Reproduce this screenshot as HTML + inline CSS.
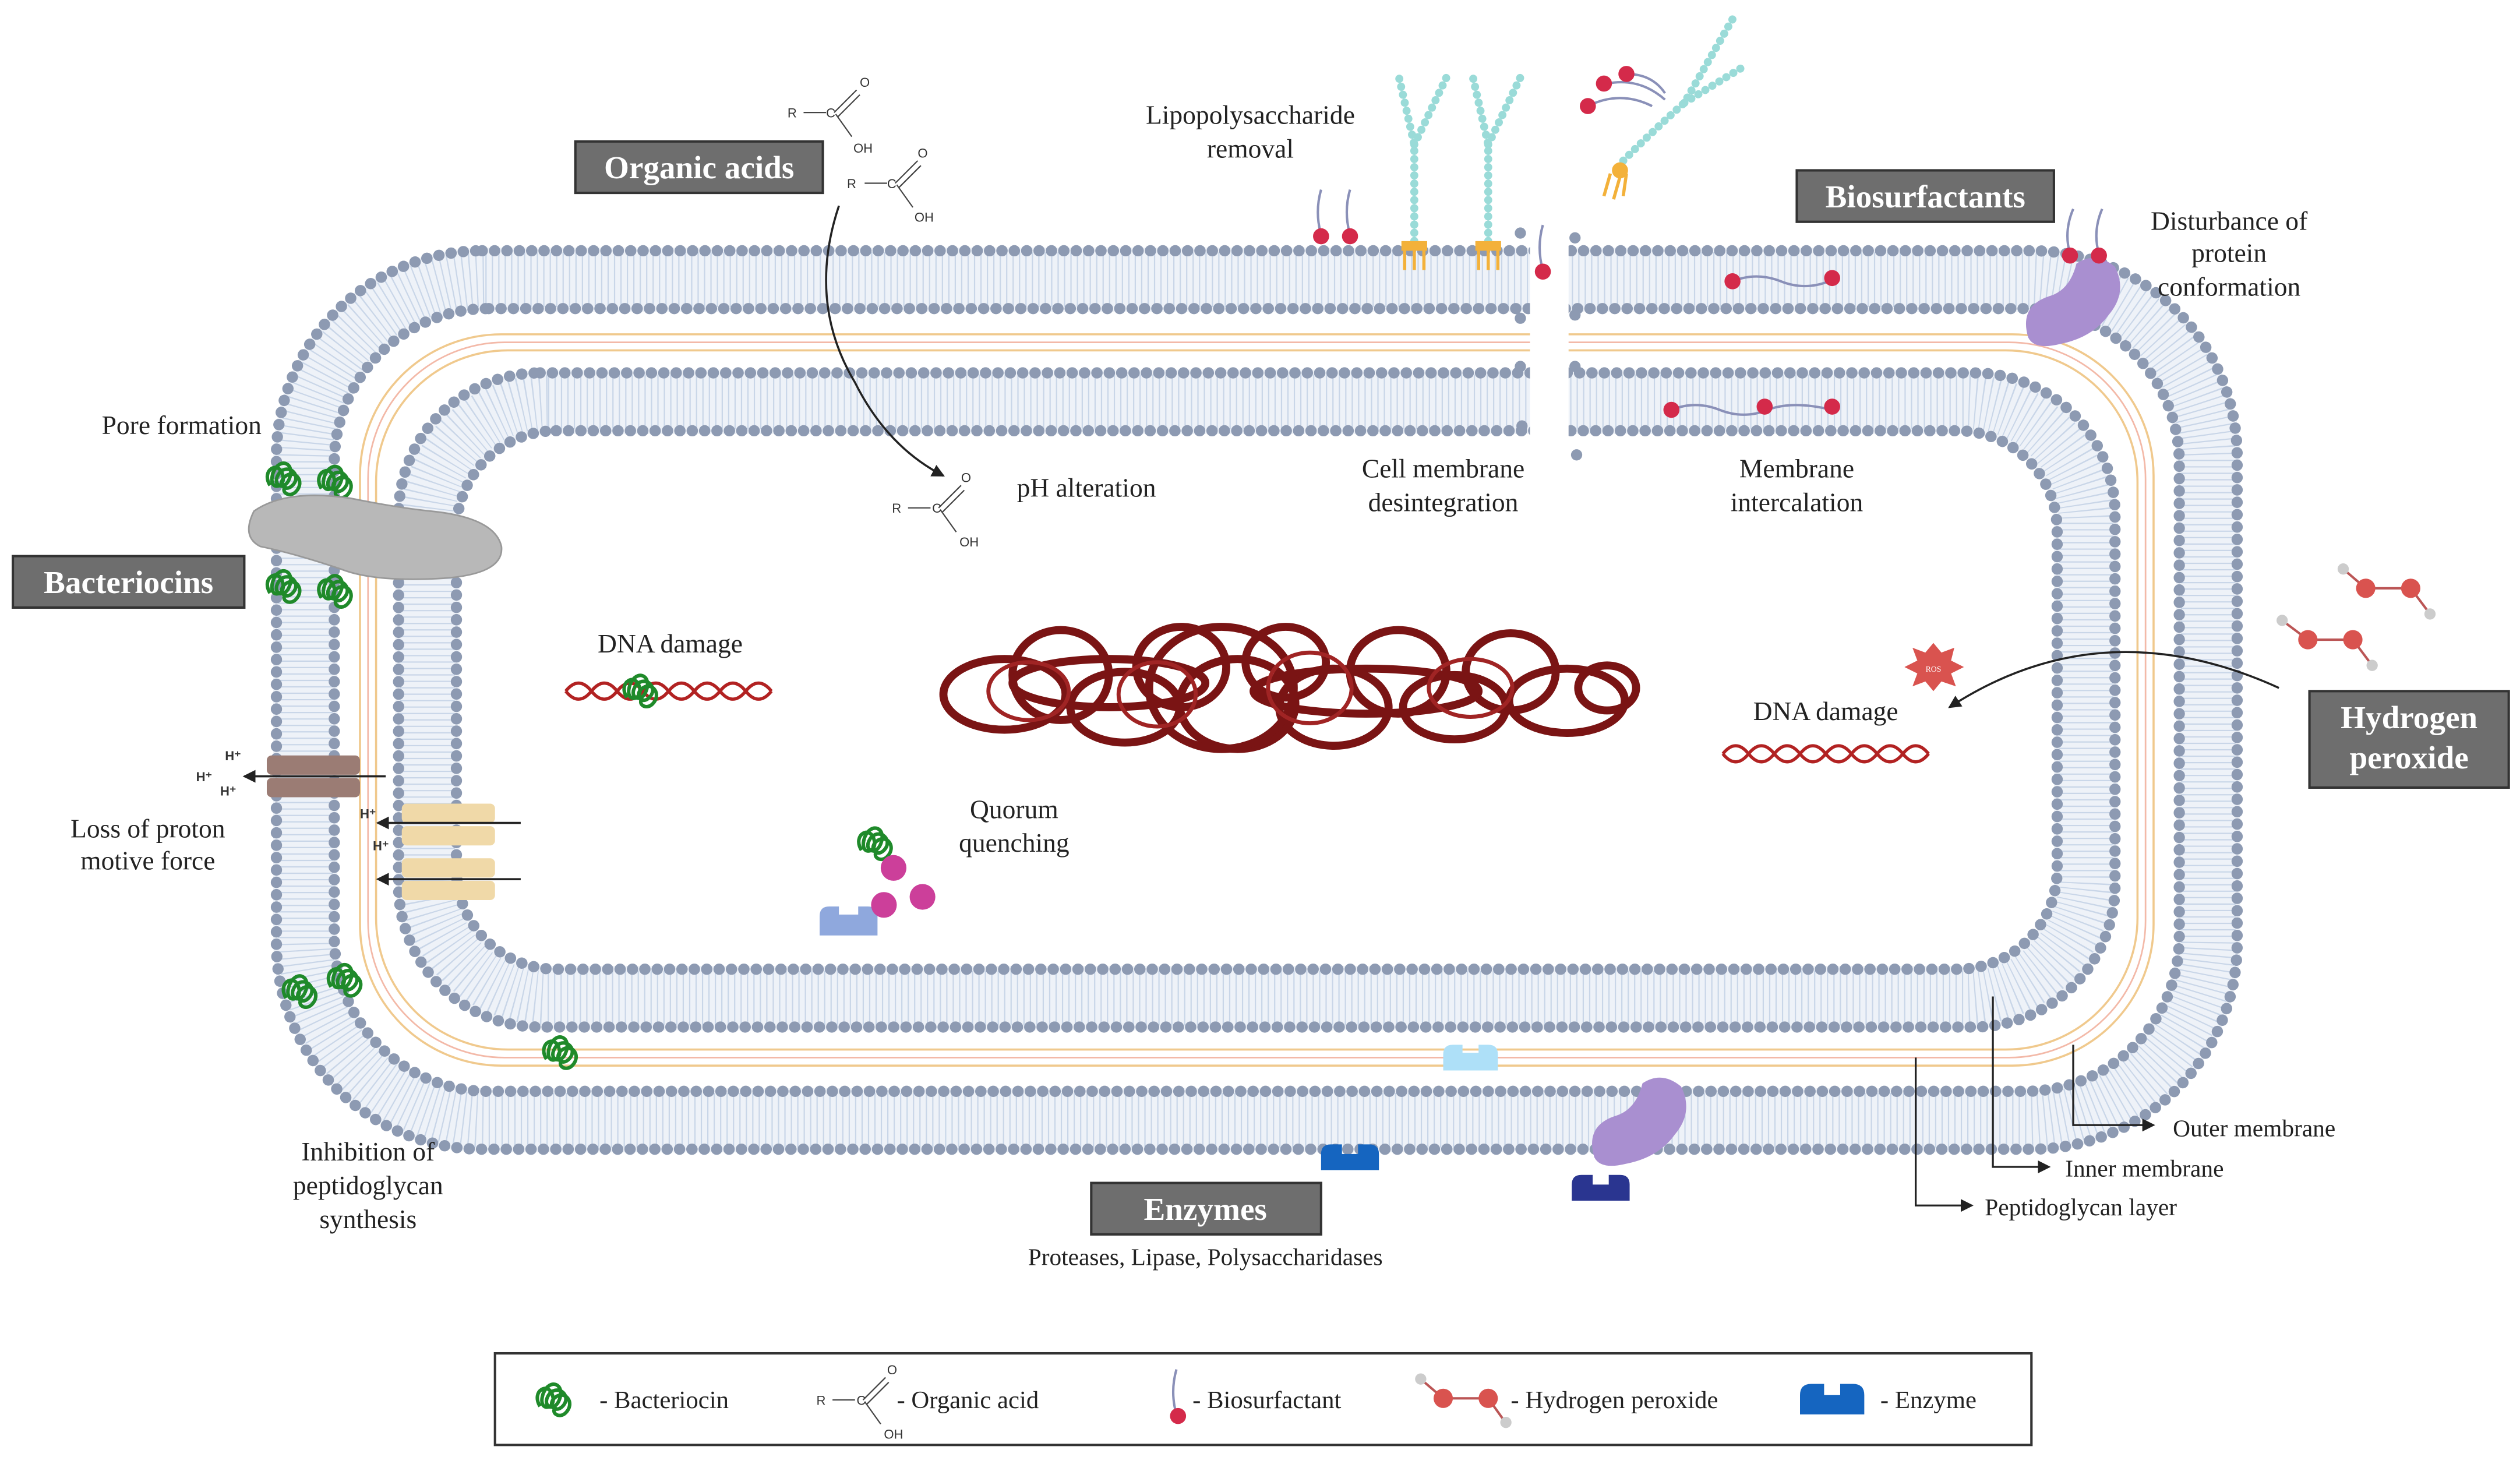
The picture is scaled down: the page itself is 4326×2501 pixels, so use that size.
<!DOCTYPE html>
<html><head><meta charset="utf-8"><style>
html,body{margin:0;padding:0;background:#fff;}
svg{display:block;}
text{font-family:"Liberation Serif",serif;fill:#222;}
.box{fill:#6e6e6e;stroke:#333;stroke-width:1.5;}
.bt{fill:#fff;font-weight:bold;font-size:20px;}
.lb{font-size:16.5px;text-anchor:middle;}
.sm{font-family:"Liberation Sans",sans-serif;font-size:8px;fill:#333;}
</style></head><body>
<svg width="4326" height="2501" viewBox="0 0 1568 906.5" preserveAspectRatio="none" xmlns="http://www.w3.org/2000/svg">
<defs>
<marker id="ar" markerWidth="8" markerHeight="8" refX="7" refY="4" orient="auto" markerUnits="userSpaceOnUse"><path d="M0,0 L8,4 L0,8 z" fill="#222"/></marker>
<g id="bac" fill="none" stroke="#1f8a2a" stroke-width="2.2">
<path d="M-12,4 c-6,-10 6,-16 8,-6 c2,8 -10,10 -6,-2 c4,-10 14,-6 10,4 c-3,8 -12,4 -6,-4 c6,-6 14,2 8,8 c-5,5 -10,-2 -4,-6 c6,-4 12,4 6,10 c-4,4 -10,0 -6,-4"/>
</g>
</defs>
<rect width="1568" height="906.5" fill="#fff"/>

<!-- outer membrane -->
<rect x="190" y="174" width="1184" height="523" rx="112" fill="none" stroke="#eef2f8" stroke-width="40"/>
<rect x="190" y="174" width="1184" height="523" rx="112" fill="none" stroke="#c9d6e8" stroke-width="34" stroke-dasharray="0.8 3.2"/>
<rect x="172" y="156" width="1220" height="559" rx="128" fill="none" stroke="#8d9ab2" stroke-width="7" stroke-dasharray="0.1 7.6" stroke-linecap="round"/>
<rect x="208" y="192" width="1148" height="487" rx="96" fill="none" stroke="#8d9ab2" stroke-width="7" stroke-dasharray="0.1 7.6" stroke-linecap="round"/>
<!-- peptidoglycan -->
<rect x="224" y="208" width="1116" height="455" rx="88" fill="none" stroke="#f0c98d" stroke-width="1.3"/>
<rect x="229" y="213" width="1106" height="445" rx="85" fill="none" stroke="#f3b9a8" stroke-width="1"/>
<rect x="234" y="218" width="1096" height="435" rx="82" fill="none" stroke="#f0c98d" stroke-width="1.3"/>
<!-- inner membrane -->
<rect x="266" y="250" width="1032" height="371" rx="75" fill="none" stroke="#eef2f8" stroke-width="40"/>
<rect x="266" y="250" width="1032" height="371" rx="75" fill="none" stroke="#c9d6e8" stroke-width="34" stroke-dasharray="0.8 3.2"/>
<rect x="248" y="232" width="1068" height="407" rx="88" fill="none" stroke="#8d9ab2" stroke-width="7" stroke-dasharray="0.1 7.6" stroke-linecap="round"/>
<rect x="284" y="268" width="996" height="335" rx="62" fill="none" stroke="#8d9ab2" stroke-width="7" stroke-dasharray="0.1 7.6" stroke-linecap="round"/>

<!-- gap for desintegration -->
<rect x="952" y="140" width="24" height="150" fill="#fff"/>
<g fill="#8d9ab2"><circle cx="946" cy="145" r="3.5"/><circle cx="946" cy="198" r="3.5"/><circle cx="946" cy="228" r="3.5"/><circle cx="947" cy="265" r="3.5"/><circle cx="980" cy="148" r="3.5"/><circle cx="980" cy="196" r="3.5"/><circle cx="980" cy="228" r="3.5"/><circle cx="981" cy="283" r="3.5"/></g>

<!-- nucleoid -->
<g fill="none" stroke="#7a1414" stroke-width="5">
<ellipse cx="625" cy="432" rx="38" ry="22"/><ellipse cx="660" cy="420" rx="30" ry="28"/><ellipse cx="700" cy="440" rx="34" ry="22"/>
<ellipse cx="735" cy="415" rx="28" ry="25"/><ellipse cx="770" cy="438" rx="36" ry="28"/><ellipse cx="800" cy="412" rx="25" ry="22"/>
<ellipse cx="830" cy="440" rx="34" ry="24"/><ellipse cx="870" cy="418" rx="30" ry="26"/><ellipse cx="905" cy="440" rx="32" ry="20"/>
<ellipse cx="940" cy="418" rx="28" ry="24"/><ellipse cx="975" cy="436" rx="36" ry="20"/><ellipse cx="1000" cy="428" rx="18" ry="14"/>
<ellipse cx="690" cy="425" rx="60" ry="15"/><ellipse cx="850" cy="430" rx="70" ry="14"/><ellipse cx="760" cy="428" rx="45" ry="38"/>
</g>
<g fill="none" stroke="#a02424" stroke-width="2.5">
<ellipse cx="640" cy="430" rx="25" ry="18"/><ellipse cx="720" cy="432" rx="24" ry="20"/><ellipse cx="815" cy="428" rx="26" ry="22"/><ellipse cx="915" cy="428" rx="26" ry="18"/>
</g>

<!-- DNA left -->
<g fill="none" stroke="#b22222" stroke-width="2">
<path d="M352,430 q8,-10 16,0 t16,0 t16,0 t16,0 t16,0 t16,0 t16,0 t16,0"/>
<path d="M352,430 q8,10 16,0 t16,0 t16,0 t16,0 t16,0 t16,0 t16,0 t16,0"/>
</g>
<use href="#bac" x="402" y="430"/>
<!-- DNA right -->
<g fill="none" stroke="#b22222" stroke-width="2">
<path d="M1072,469 q8,-10 16,0 t16,0 t16,0 t16,0 t16,0 t16,0 t16,0 t16,0"/>
<path d="M1072,469 q8,10 16,0 t16,0 t16,0 t16,0 t16,0 t16,0 t16,0 t16,0"/>
</g>
<polygon points="1203,400 1208,406 1216,403 1214,411 1222,415 1214,419 1217,427 1208,424 1203,430 1198,424 1190,427 1193,419 1185,415 1193,411 1190,403 1198,406" fill="#d9534f"/>
<text x="1203" y="418" style="font-size:5px;fill:#fff" text-anchor="middle">ROS</text>

<!-- pore formation -->
<use href="#bac" x="180" y="298"/><use href="#bac" x="212" y="300"/>
<path d="M158,318 q20,-14 60,-8 q30,6 50,8 q40,4 44,22 q2,18 -40,20 q-40,2 -60,-6 q-30,-10 -50,-14 q-12,-6 -4,-22z" fill="#b8b8b8" stroke="#999"/>
<use href="#bac" x="180" y="365"/><use href="#bac" x="212" y="368"/>
<use href="#bac" x="190" y="617"/><use href="#bac" x="218" y="610"/>
<use href="#bac" x="352" y="655"/>
<use href="#bac" x="548" y="525"/>

<!-- proton channels -->
<rect x="166" y="470" width="58" height="12" rx="3" fill="#9b7c74"/><rect x="166" y="484" width="58" height="12" rx="3" fill="#9b7c74"/>
<rect x="250" y="500" width="58" height="12" rx="3" fill="#f0d9a8"/><rect x="250" y="514" width="58" height="12" rx="3" fill="#f0d9a8"/>
<rect x="250" y="534" width="58" height="12" rx="3" fill="#f0d9a8"/><rect x="250" y="548" width="58" height="12" rx="3" fill="#f0d9a8"/>
<line x1="240" y1="483" x2="152" y2="483" stroke="#222" stroke-width="1.3" marker-end="url(#ar)"/>
<line x1="324" y1="512" x2="235" y2="512" stroke="#222" stroke-width="1.3" marker-end="url(#ar)"/>
<line x1="324" y1="547" x2="235" y2="547" stroke="#222" stroke-width="1.3" marker-end="url(#ar)"/>
<text x="140" y="473" class="sm" style="font-weight:bold">H⁺</text><text x="122" y="486" class="sm" style="font-weight:bold">H⁺</text><text x="137" y="495" class="sm" style="font-weight:bold">H⁺</text>
<text x="224" y="509" class="sm" style="font-weight:bold">H⁺</text><text x="232" y="529" class="sm" style="font-weight:bold">H⁺</text>

<!-- quorum quenching -->
<path d="M510,582 v-12 q0,-6 6,-6 h6 v5 h12 v-5 h6 q6,0 6,6 v12z" fill="#8fa8dd"/>
<circle cx="550" cy="563" r="8" fill="#cc3f9a"/><circle cx="574" cy="558" r="8" fill="#cc3f9a"/><circle cx="556" cy="540" r="8" fill="#cc3f9a"/>

<!-- enzymes on membrane -->
<path d="M898,666 v-10 q0,-6 6,-6 h6 v5 h10 v-5 h6 q6,0 6,6 v10z" fill="#aee0f8"/>
<path d="M822,728 v-10 q0,-6 6,-6 h7 v6 h10 v-6 h7 q6,0 6,6 v10z" fill="#1565c0"/>
<path d="M978,747 v-10 q0,-6 6,-6 h7 v6 h10 v-6 h7 q6,0 6,6 v10z" fill="#2a3590"/>
<path d="M992,720 q-6,-20 14,-26 q12,-4 16,-20 q12,-8 24,2 q8,16 -4,30 q-10,14 -30,18 q-16,4 -20,-4z" fill="#a98fd0"/>
<path d="M1262,210 q-6,-20 14,-26 q12,-4 16,-20 q12,-8 24,2 q8,16 -4,30 q-10,14 -30,18 q-16,4 -20,-4z" fill="#a98fd0"/>

<!-- biosurfactants -->
<g stroke="#8a90b8" stroke-width="1.5" fill="none">
<path d="M822,146 q-4,-14 0,-28"/><path d="M840,146 q-4,-14 0,-28"/><path d="M960,168 q-4,-14 0,-28"/>
<path d="M1288,158 q-4,-14 2,-28"/><path d="M1306,158 q-4,-14 2,-28"/>
<path d="M1078,175 q15,-6 30,0 t30,0"/><path d="M1040,255 q15,-6 30,0 t30,0 t40,0"/>
<path d="M988,66 q20,-10 40,0"/><path d="M1000,52 q20,-4 36,10"/><path d="M1012,46 q16,0 24,12"/>
</g>
<g fill="#d42a4a">
<circle cx="822" cy="147" r="5"/><circle cx="840" cy="147" r="5"/><circle cx="960" cy="169" r="5"/><circle cx="1288" cy="159" r="5"/><circle cx="1306" cy="159" r="5"/>
<circle cx="1078" cy="175" r="5"/><circle cx="1140" cy="173" r="5"/><circle cx="1040" cy="255" r="5"/><circle cx="1098" cy="253" r="5"/><circle cx="1140" cy="253" r="5"/>
<circle cx="988" cy="66" r="5"/><circle cx="998" cy="52" r="5"/><circle cx="1012" cy="46" r="5"/>
</g>
<!-- LPS -->
<g stroke="#9adbd8" stroke-width="5" stroke-dasharray="0.1 5" stroke-linecap="round" fill="none">
<path d="M880,150 v-60 l-10,-44"/><path d="M880,90 l22,-46"/>
<path d="M926,150 v-60 l-10,-44"/><path d="M926,90 l22,-46"/>
<path d="M1010,100 q20,-20 38,-36 l30,-52"/><path d="M1048,64 l36,-22"/>
</g>
<g stroke="#f3b13a" stroke-width="2" fill="none">
<path d="M874,168 v-14 M880,168 v-14 M886,168 v-14"/><path d="M920,168 v-14 M926,168 v-14 M932,168 v-14"/>
<path d="M998,122 l4,-14 M1004,124 l4,-14 M1010,122 l2,-14"/>
</g>
<g fill="#f3b13a"><rect x="872" y="150" width="16" height="6"/><rect x="918" y="150" width="16" height="6"/><circle cx="1008" cy="106" r="5"/></g>

<!-- organic acid structures -->
<g stroke="#444" stroke-width="0.8" fill="none">
<path d="M500,70 h14 M519,70 l14,-14 M521,73 l14,-14 M520,71 l10,14"/>
<path d="M538,114 h14 M557,114 l14,-14 M559,117 l14,-14 M558,115 l10,14"/>
<path d="M565,316 h14 M584,316 l14,-14 M586,319 l14,-14 M585,317 l10,14"/>
</g>
<text class="sm" x="490" y="73">R</text><text class="sm" x="514" y="73">C</text><text class="sm" x="535" y="54">O</text><text class="sm" x="531" y="95">OH</text>
<text class="sm" x="527" y="117">R</text><text class="sm" x="552" y="117">C</text><text class="sm" x="571" y="98">O</text><text class="sm" x="569" y="138">OH</text>
<text class="sm" x="555" y="319">R</text><text class="sm" x="580" y="319">C</text><text class="sm" x="598" y="300">O</text><text class="sm" x="597" y="340">OH</text>
<path d="M522,128 q-20,60 10,110 q20,40 55,58" fill="none" stroke="#222" stroke-width="1.3" marker-end="url(#ar)"/>

<!-- hydrogen peroxide -->
<g stroke="#b55" stroke-width="1.5" fill="none"><path d="M1458,354 l14,12 h28 l12,16"/><path d="M1420,386 l16,12 h28 l12,16"/></g>
<g fill="#d9534f"><circle cx="1472" cy="366" r="6"/><circle cx="1500" cy="366" r="6"/><circle cx="1436" cy="398" r="6"/><circle cx="1464" cy="398" r="6"/></g>
<g fill="#ccc"><circle cx="1458" cy="354" r="3.5"/><circle cx="1512" cy="382" r="3.5"/><circle cx="1420" cy="386" r="3.5"/><circle cx="1476" cy="414" r="3.5"/></g>
<path d="M1418,428 q-110,-50 -205,12" fill="none" stroke="#222" stroke-width="1.3" marker-end="url(#ar)"/>

<!-- membrane pointer lines -->
<g stroke="#222" stroke-width="1.2" fill="none">
<path d="M1290,650 v50 h50" marker-end="url(#ar)"/>
<path d="M1240,620 v106 h35" marker-end="url(#ar)"/>
<path d="M1192,658 v92 h35" marker-end="url(#ar)"/>
</g>

<!-- labels -->
<rect class="box" x="358" y="88" width="154" height="32"/><text class="bt" x="435" y="111" text-anchor="middle">Organic acids</text>
<rect class="box" x="1118" y="106" width="160" height="32"/><text class="bt" x="1198" y="129" text-anchor="middle">Biosurfactants</text>
<rect class="box" x="8" y="346" width="144" height="32"/><text class="bt" x="80" y="369" text-anchor="middle">Bacteriocins</text>
<rect class="box" x="1437" y="430" width="124" height="60"/><text class="bt" x="1499" y="453" text-anchor="middle">Hydrogen</text><text class="bt" x="1499" y="478" text-anchor="middle">peroxide</text>
<rect class="box" x="679" y="736" width="143" height="32"/><text class="bt" x="750" y="759" text-anchor="middle">Enzymes</text>

<text class="lb" x="778" y="77">Lipopolysaccharide</text><text class="lb" x="778" y="98">removal</text>
<text class="lb" x="1387" y="143">Disturbance of</text><text class="lb" x="1387" y="163">protein</text><text class="lb" x="1387" y="184">conformation</text>
<text class="lb" x="113" y="270">Pore formation</text>
<text class="lb" x="676" y="309">pH alteration</text>
<text class="lb" x="898" y="297">Cell membrane</text><text class="lb" x="898" y="318">desintegration</text>
<text class="lb" x="1118" y="297">Membrane</text><text class="lb" x="1118" y="318">intercalation</text>
<text class="lb" x="417" y="406">DNA damage</text>
<text class="lb" x="1136" y="448">DNA damage</text>
<text class="lb" x="631" y="509">Quorum</text><text class="lb" x="631" y="530">quenching</text>
<text class="lb" x="92" y="521">Loss of proton</text><text class="lb" x="92" y="541">motive force</text>
<text class="lb" x="229" y="722">Inhibition of</text><text class="lb" x="229" y="743">peptidoglycan</text><text class="lb" x="229" y="764">synthesis</text>
<text class="lb" x="750" y="787" style="font-size:15px">Proteases, Lipase, Polysaccharidases</text>
<text x="1352" y="707" style="font-size:15px">Outer membrane</text>
<text x="1285" y="732" style="font-size:15px">Inner membrane</text>
<text x="1235" y="756" style="font-size:15px">Peptidoglycan layer</text>

<!-- legend -->
<rect x="308" y="842" width="956" height="57" fill="#fff" stroke="#333" stroke-width="1.5"/>
<use href="#bac" x="348" y="871"/><text x="373" y="876" style="font-size:15.5px">- Bacteriocin</text>
<g stroke="#444" stroke-width="0.8" fill="none"><path d="M518,871 h14 M537,871 l14,-14 M539,874 l14,-14 M538,872 l10,14"/></g>
<text class="sm" x="508" y="874">R</text><text class="sm" x="533" y="874">C</text><text class="sm" x="552" y="855">O</text><text class="sm" x="550" y="895">OH</text>
<text x="558" y="876" style="font-size:15.5px">- Organic acid</text>
<path d="M732,880 q-4,-14 0,-28" stroke="#8a90b8" stroke-width="1.5" fill="none"/><circle cx="733" cy="881" r="5" fill="#d42a4a"/>
<text x="742" y="876" style="font-size:15.5px">- Biosurfactant</text>
<path d="M884,858 l14,12 h28 l10,14" stroke="#b55" stroke-width="1.5" fill="none"/>
<circle cx="898" cy="870" r="6" fill="#d9534f"/><circle cx="926" cy="870" r="6" fill="#d9534f"/><circle cx="884" cy="858" r="3.5" fill="#ccc"/><circle cx="937" cy="885" r="3.5" fill="#ccc"/>
<text x="940" y="876" style="font-size:15.5px">- Hydrogen peroxide</text>
<path d="M1120,880 v-12 q0,-7 7,-7 h8 v7 h10 v-7 h8 q7,0 7,7 v12z" fill="#1565c0"/>
<text x="1170" y="876" style="font-size:15.5px">- Enzyme</text>
</svg>
</body></html>
